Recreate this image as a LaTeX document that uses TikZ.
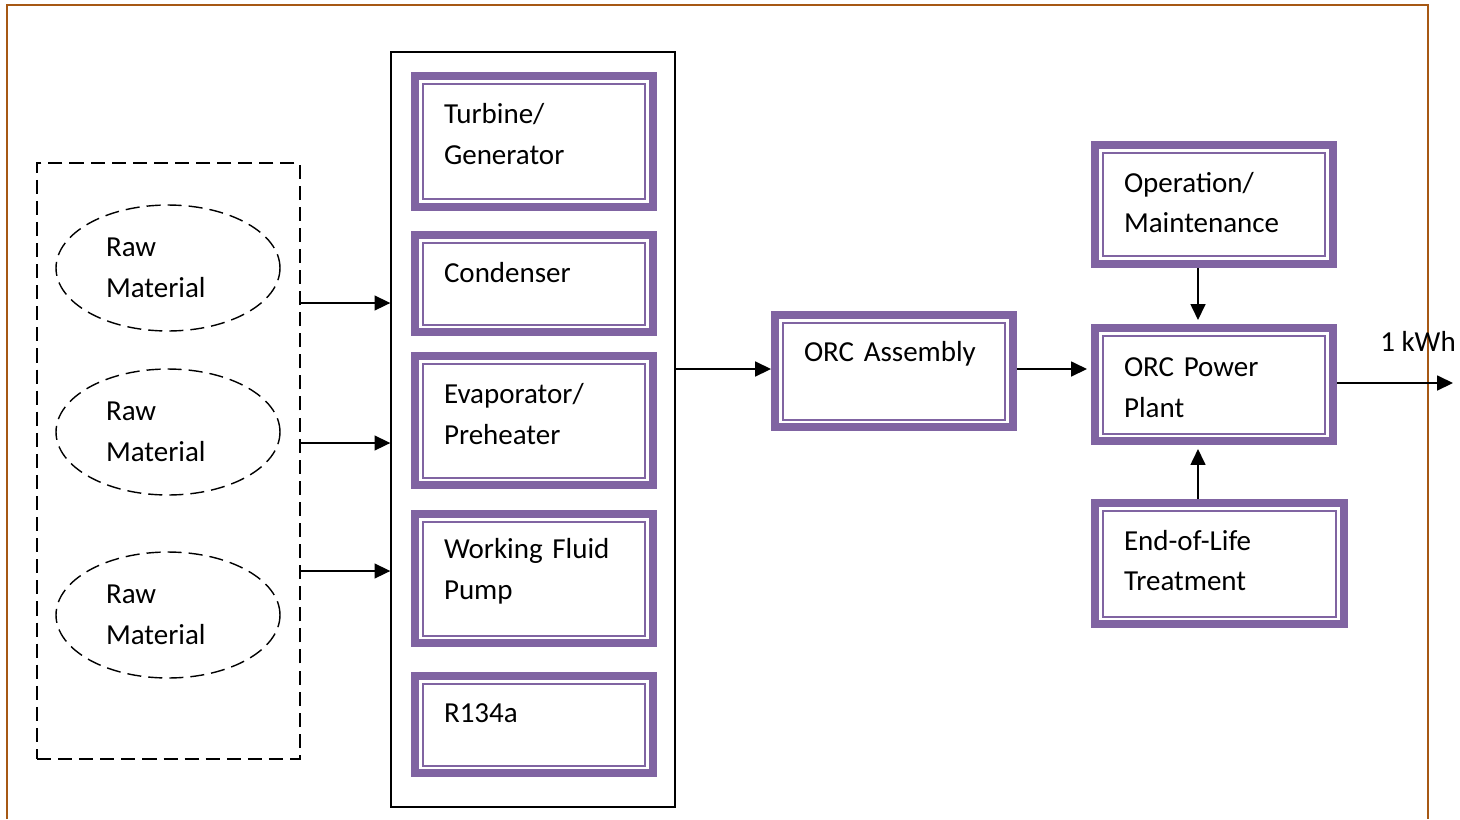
\documentclass[tikz,border=0pt]{standalone}
\usepackage{fontspec}
\setmainfont{Carlito}
\usepackage{xcolor}
\usepackage{tikz}
\usetikzlibrary{shapes.geometric,arrows.meta}
\definecolor{orcpurple}{RGB}{128,100,162}
\definecolor{framebrown}{RGB}{166,88,20}

\begin{document}
\begin{tikzpicture}[x=0.02cm, y=-0.02cm,
  every node/.style={font=\fontsize{16.5}{23.2}\selectfont},
  part/.style={draw=orcpurple, line width=0.16cm, text width=3.6cm,
    inner xsep=0.58cm, inner ysep=0pt, align=left,
    path picture={\draw[orcpurple, line width=0.04cm]
      ([shift={(0.15cm,0.15cm)}]path picture bounding box.south west) rectangle
      ([shift={(-0.15cm,-0.15cm)}]path picture bounding box.north east);}},
  lift/.style={execute at end node={\endgraf\vspace*{#1}}},
  raw/.style={ellipse, draw, line width=0.8pt, dash pattern=on 8pt off 4pt,
    minimum width=4.48cm, minimum height=2.52cm, text width=2.48cm,
    align=left, inner sep=0pt},
  flow/.style={-{Triangle[length=9pt,width=8.5pt]}, line width=0.8pt}]
  \useasboundingbox (0,0) rectangle (1460,819);
  % Frame
  \draw[framebrown, line width=1.6pt] (7,819) -- (7,5) -- (1428,5) -- (1428,819);
  % Raw materials
  \node[draw, line width=0.8pt, dash pattern=on 8pt off 4pt,
    minimum width=5.26cm, minimum height=11.92cm] (rawgroup) at (168.5,461) {};
  \node[raw] (raw1) at (168,268) {Raw\\Material};
  \node[raw] (raw2) at (168,432) {Raw\\Material};
  \node[raw] (raw3) at (168,615) {Raw\\Material};
  % Components
  \node[draw, line width=0.8pt, minimum width=5.68cm, minimum height=15.1cm] (column) at (533,429.5) {};
  \node[part, minimum height=2.62cm, lift=0.3cm] (turbine) at (534,141.5) {Turbine/\\Generator};
  \node[part, minimum height=1.94cm, lift=0.42cm] (condenser) at (534,283.5) {Condenser};
  \node[part, minimum height=2.58cm, lift=0.26cm] (evaporator) at (534,420.5) {Evaporator/\\Preheater};
  \node[part, minimum height=2.58cm, lift=0.28cm] (pump) at (534,578.5) {Working Fluid\\Pump};
  \node[part, minimum height=1.94cm, lift=0.46cm] (fluid) at (534,724.5) {R134a};
  % Assembly and plant
  \node[part, minimum height=2.24cm, lift=0.68cm] (assembly) at (894,371) {ORC Assembly};
  \node[part, minimum height=2.26cm, lift=-0.12cm] (plant) at (1214,384.5) {ORC Power\\Plant};
  \node[part, minimum height=2.38cm, lift=0.08cm] (operation) at (1214,204.5) {Operation/\\Maintenance};
  \node[part, minimum height=2.42cm, lift=0.12cm, text width=3.82cm] (eol) at (1219.5,563.5) {End-of-Life\\Treatment};
  \node (kwh) at (1418,341) {1 kWh};
  \coordinate (link) at (1198,0);
  \coordinate (grid) at (1453,383);
  % Arrows
  \foreach \y in {303,443,571}
    \draw[flow] (rawgroup.east |- 0,\y) -- (column.west |- 0,\y);
  \draw[flow] (column.east |- 0,369) -- (assembly.west |- 0,369);
  \draw[flow, shorten >=2.3pt] (assembly.east |- 0,369) -- (plant.west |- 0,369);
  \draw[flow, shorten >=2.3pt] (operation.south -| link) -- (plant.north -| link);
  \draw[flow, shorten >=2.3pt] (eol.north -| link) -- (plant.south -| link);
  \draw[flow] (plant.east |- grid) -- (grid);
\end{tikzpicture}
\end{document}
